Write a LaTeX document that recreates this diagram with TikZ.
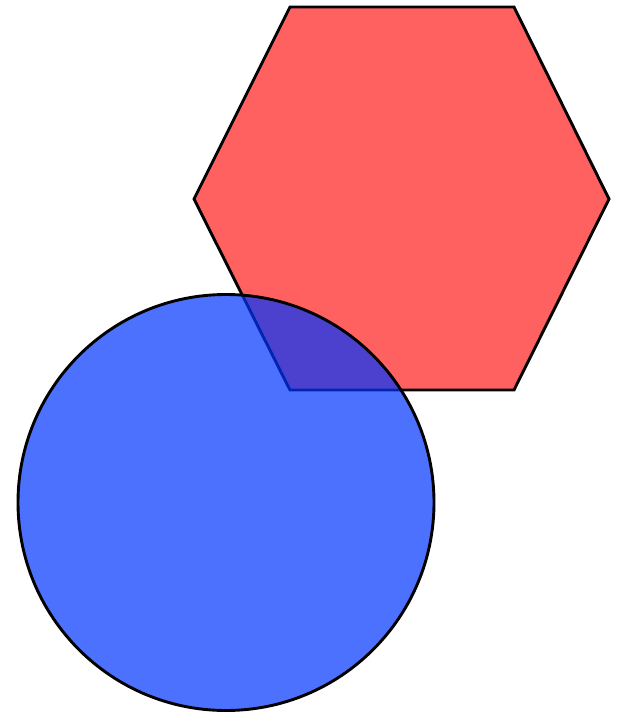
\documentclass[tikz,border=0pt]{standalone}
\usepackage{xcolor}
\usepackage{tikz}
\definecolor{hexred}{RGB}{255,0,0}
\definecolor{discblue}{RGB}{0,52,255}
\begin{document}
\begin{tikzpicture}[
  x=0.02cm, y=-0.02cm,
  % ---- shape styles ----
  outline/.style={draw=black, line width=1.65pt, line join=miter},
  hexshape/.style={outline, fill=hexred, fill opacity=0.62},
  discshape/.style={outline, fill=discblue, fill opacity=0.7},
]
\useasboundingbox (0,0) rectangle (619,713);
% ---- hexagon (behind) ----
\draw[hexshape] (290,7) -- (514,7) -- (609,199) -- (514,390)
  -- (290,390) -- (194,199) -- cycle;
% ---- disc (in front, translucent) ----
\draw[discshape] (226,502.5) circle[radius=208];
\end{tikzpicture}
\end{document}
